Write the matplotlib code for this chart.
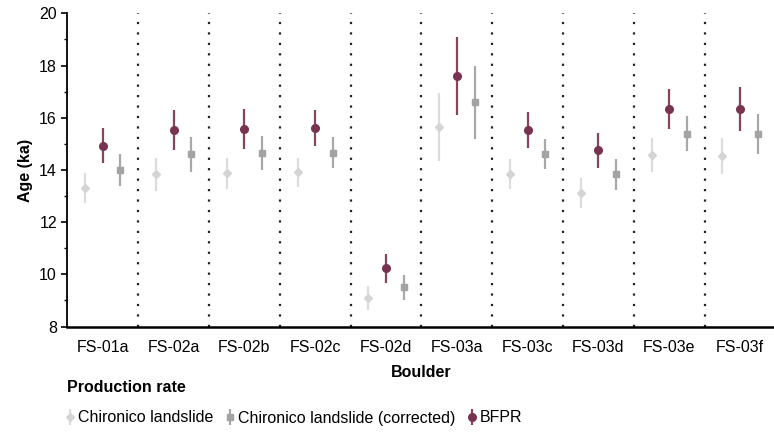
import matplotlib.pyplot as plt
import numpy as np
from matplotlib.ticker import MultipleLocator

plt.rcParams['font.family'] = ['Liberation Sans', 'DejaVu Sans']

boulders = ["FS-01a", "FS-02a", "FS-02b", "FS-02c", "FS-02d",
            "FS-03a", "FS-03c", "FS-03d", "FS-03e", "FS-03f"]

# Chironico landslide
chir = [13.30, 13.83, 13.87, 13.91, 9.10, 15.64, 13.85, 13.11, 14.56, 14.54]
chir_err = [0.58, 0.64, 0.60, 0.56, 0.47, 1.31, 0.57, 0.57, 0.65, 0.70]
# Chironico landslide (corrected)
corr = [14.00, 14.60, 14.65, 14.67, 9.51, 16.59, 14.61, 13.83, 15.38, 15.38]
corr_err = [0.60, 0.68, 0.65, 0.60, 0.48, 1.39, 0.59, 0.58, 0.67, 0.76]
# BFPR
bfpr = [14.93, 15.52, 15.57, 15.62, 10.23, 17.59, 15.54, 14.75, 16.34, 16.34]
bfpr_err = [0.68, 0.76, 0.75, 0.69, 0.56, 1.50, 0.68, 0.68, 0.78, 0.85]

x = np.arange(len(boulders))
off = 0.25
fs = 11.5

fig = plt.figure(figsize=(7.74, 4.32), dpi=100)
ax = fig.add_axes([0.087, 0.244, 0.915, 0.725])

h1 = ax.errorbar(x - off, chir, yerr=chir_err, fmt='D', ms=4.5, color='#d4d4d4',
                 ecolor='#dcdcdc', elinewidth=1.6, capsize=0)
h2 = ax.errorbar(x + off, corr, yerr=corr_err, fmt='s', ms=5, color='#a3a3a3',
                 ecolor='#a8a8a8', elinewidth=1.6, capsize=0)
h3 = ax.errorbar(x, bfpr, yerr=bfpr_err, fmt='o', ms=5.5, color='#77334f',
                 ecolor='#86445f', elinewidth=1.6, capsize=0)

for b in x[:-1]:
    ax.axvline(b + 0.5, color='#222222', lw=1.6, ls=(0, (1, 3.7)))

ax.set_xlim(-0.5, 9.5)
ax.set_ylim(8, 20)
ax.yaxis.set_major_locator(MultipleLocator(2))
ax.yaxis.set_minor_locator(MultipleLocator(1))
ax.set_xticks(x)
ax.set_xticklabels(boulders, fontsize=fs)
ax.tick_params(axis='x', length=0, pad=10)
ax.tick_params(axis='y', labelsize=fs, width=1.2, length=4)
ax.tick_params(axis='y', which='minor', length=2.5, width=1.0)
ax.spines['top'].set_visible(False)
ax.spines['right'].set_visible(False)
ax.spines['left'].set_linewidth(1.3)
ax.spines['bottom'].set_linewidth(1.8)
ax.set_ylabel("Age (ka)", fontsize=fs, fontweight='bold')
ax.set_xlabel("Boulder", fontsize=fs, fontweight='bold', labelpad=7)

fig.text(67 / 774, 1 - 388 / 432, "Production rate", fontsize=fs,
         fontweight='bold', ha='left', va='center')
fig.legend([h1, h2, h3],
           ["Chironico landslide", "Chironico landslide (corrected)", "BFPR"],
           loc='center left', bbox_to_anchor=(66 / 774, 1 - 418 / 432), ncol=3,
           frameon=False, fontsize=fs, handlelength=0.5, handletextpad=0.25,
           columnspacing=0.8, borderpad=0, borderaxespad=0)

fig.savefig("out.png", dpi=100)
